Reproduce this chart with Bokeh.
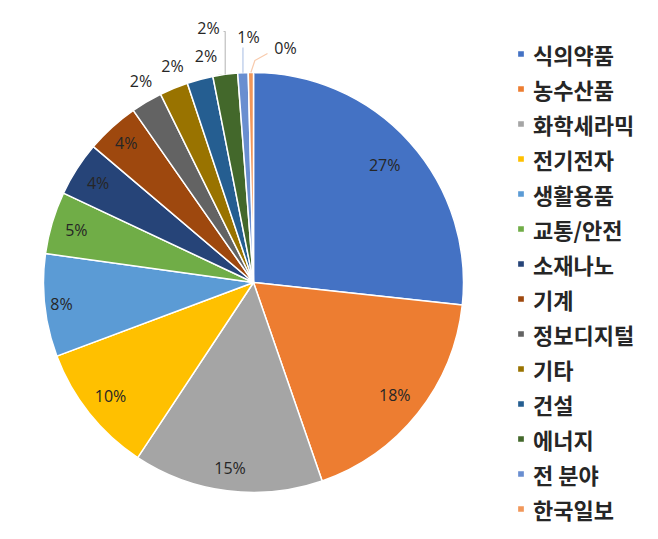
import math
from bokeh.plotting import figure
from bokeh.models import ColumnDataSource, Range1d
from bokeh.embed import file_html
from bokeh.resources import INLINE
from bokeh.core.properties import value

# ---- data ----
categories = ["식의약품", "농수산품", "화학세라믹", "전기전자", "생활용품", "교통/안전", "소재나노",
              "기계", "정보디지털", "기타", "건설", "에너지", "전 분야", "한국일보"]
shares = [26.7, 18.0, 14.6, 10.0, 7.9, 4.8, 4.2, 4.1, 2.4, 2.2, 2.0, 1.9, 0.8, 0.4]
pct_labels = ["27%", "18%", "15%", "10%", "8%", "5%", "4%", "4%", "2%", "2%", "2%", "2%", "1%", "0%"]
colors = ["#4472C4", "#ED7D31", "#A5A5A5", "#FFC000", "#5B9BD5", "#70AD47", "#264478",
          "#9E480E", "#636363", "#997300", "#255E91", "#43682B", "#698ED0", "#F1975A"]

# ---- layout ----
W, H = 642, 523
CX, CY, R = 253, 241, 210
label_rf = [0.84, 0.86, 0.89, 0.87, 0.92, 0.88, 0.88, 0.90, 1.10, 1.10, 1.10, None, None, None]
label_nudge = [0, 0, 0, 0, 0, 0, 0, 0, 0.004, 0.005, 0.008, 0, 0, 0]
# explicit label offsets (px, y downwards) for the labels with leader lines
explicit = {11: (-45, -255), 12: (-5, -246), 13: (32, -235)}
leader_colors = {11: "#bfbfbf", 12: "#b4c7e7", 13: "#f8cbad"}

total = sum(shares)
starts, ends, mids = [], [], []
cum = 0.0
for s in shares:
    f0 = cum / total
    cum += s
    f1 = cum / total
    starts.append(math.pi / 2 - 2 * math.pi * f0)
    ends.append(math.pi / 2 - 2 * math.pi * f1)
    mids.append((f0 + f1) / 2)

src = ColumnDataSource(dict(cat=categories, start=starts, end=ends, color=colors))

p = figure(width=W, height=H, x_range=Range1d(0, W), y_range=Range1d(0, H),
           output_backend="svg", toolbar_location=None, min_border=0,
           outline_line_color=None)
p.axis.visible = False
p.grid.visible = False
p.background_fill_color = "white"

p.wedge(x=CX, y=CY, radius=R, start_angle="start", end_angle="end", direction="clock",
        fill_color="color", line_color="white", line_width=1.5, source=src,
        legend_field="cat")

lx, ly, lt = [], [], []
for i, lab in enumerate(pct_labels):
    if i in explicit:
        dx, dy = explicit[i]
        x, y = CX + dx, CY - dy
        a = 2 * math.pi * mids[i]
        ex, ey = CX + R * math.sin(a), CY + R * math.cos(a)
        if i == 11:
            xs = [ex, ex, x + 15]
            ys = [ey, y - 4, y - 4]
        elif i == 12:
            xs = [ex, ex]
            ys = [ey, y - 11]
        else:
            xs = [ex, ex + 4, x - 18]
            ys = [ey, ey + 12, y - 6]
        p.line(xs, ys, line_color=leader_colors[i], line_width=1.2)
    else:
        a = 2 * math.pi * (mids[i] + label_nudge[i])
        rr = label_rf[i] * R
        x, y = CX + rr * math.sin(a), CY + rr * math.cos(a)
    lx.append(x)
    ly.append(y)
    lt.append(lab)

p.text(x=lx, y=ly, text=lt, text_align="center", text_baseline="middle",
       text_font=value("Open Sans"), text_font_size="16px", text_color="#262626")

leg = p.legend[0]
leg.location = (516, -3)
leg.border_line_color = None
leg.background_fill_alpha = 0
leg.padding = 0
leg.margin = 0
leg.spacing = 0
leg.glyph_width = 9
leg.glyph_height = 9
leg.label_height = 35
leg.label_standoff = 8
leg.label_text_font = "Noto Sans CJK KR"
leg.label_text_font_size = "22px"
leg.label_text_font_style = "bold"
leg.label_text_color = "#262626"

open("out.html", "w").write(file_html(p, INLINE))
